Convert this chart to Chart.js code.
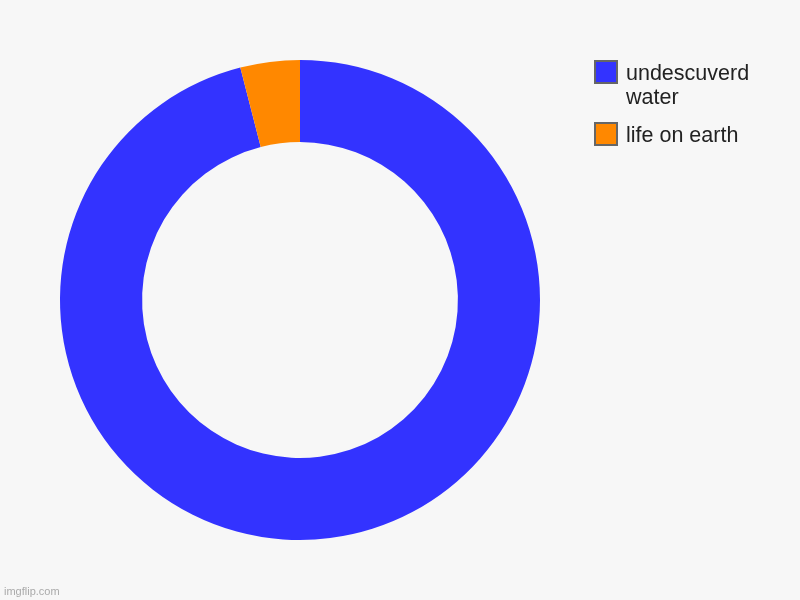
<!DOCTYPE html>
<html>
<head>
<meta charset="utf-8">
<script src="https://cdn.jsdelivr.net/npm/chart.js@4.4.1/dist/chart.umd.min.js"></script>
<style>
  html, body { margin:0; padding:0; background:#f7f7f7; }
  #wrap { position:relative; width:800px; height:600px; background:#f7f7f7; overflow:hidden; }
  #pie { position:absolute; left:0; top:0; }
  .legend { position:absolute; left:594px; top:60px; font-family:"Liberation Sans", Arial, sans-serif; font-size:21.5px; line-height:24px; color:#222; }
  .legend .item { position:relative; margin-bottom:14px; }
  .legend .box { position:absolute; left:0; top:0; width:20px; height:20px; border:2px solid #666; }
  .legend .txt { margin-left:32px; width:150px; position:relative; top:1px; }
  .mark { position:absolute; left:4px; top:585px; font-family:"Liberation Sans", Arial, sans-serif; font-size:11px; color:#aaa; }
</style>
</head>
<body>
<div id="wrap">
  <canvas id="pie" width="800" height="600"></canvas>
  <div class="legend" id="legend"></div>
  <div class="mark">imgflip.com</div>
</div>
<script>
const labels = ['undescuverd water', 'life on earth'];
const values = [96, 4];
const colors = ['#3333ff', '#ff8800'];

// legenda em HTML para permitir quebra de linha como no original
const legend = document.getElementById('legend');
labels.forEach((lbl, i) => {
  const item = document.createElement('div');
  item.className = 'item';
  item.innerHTML = `<div class="box" style="background:${colors[i]}"></div><div class="txt">${lbl}</div>`;
  legend.appendChild(item);
});

const ctx = document.getElementById('pie').getContext('2d');
new Chart(ctx, {
  type: 'doughnut',
  data: { labels, datasets: [{ data: values, backgroundColor: colors, borderWidth: 0 }] },
  options: {
    responsive: false, animation: false, cutout: '65.8%',
    layout: { padding: { left: 60, top: 60, right: 260, bottom: 60 } },
    plugins: { legend: { display: false }, tooltip: { enabled: false } }
  }
});
</script>
</body>
</html>
